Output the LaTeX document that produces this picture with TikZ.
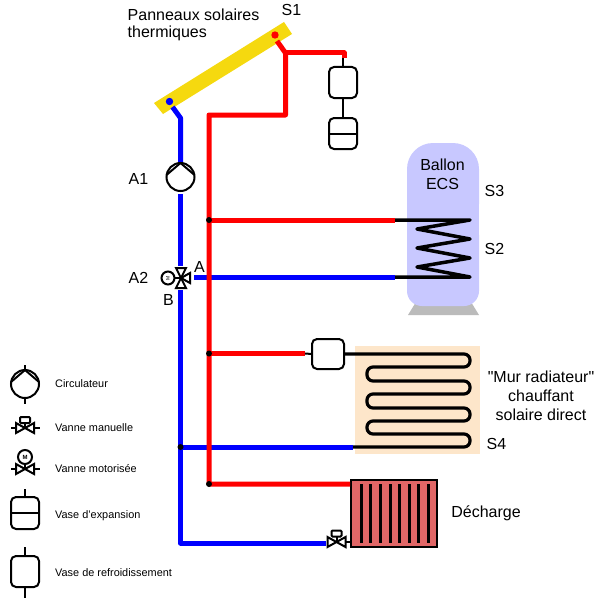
\documentclass[tikz,border=0pt]{standalone}
\usepackage{fontspec}
\setmainfont{Liberation Sans}
\newfontfamily\plainf{Liberation Sans}
\definecolor{panelc}{HTML}{F5D90F}
\definecolor{tankc}{HTML}{C8C8FF}
\definecolor{basec}{HTML}{BBBBBB}
\definecolor{wallc}{HTML}{FDE6CA}
\definecolor{radc}{HTML}{E06666}
\tikzset{
  hot/.style={draw=red,line width=5pt,line join=round},
  cold/.style={draw=blue,line width=5pt,line join=round},
  blk/.style={draw=black,line width=2pt},
  coil/.style={draw=black,line width=3.5pt,line join=round},
  vase/.style={draw=black,line width=2pt,rounded corners=5pt,minimum width=28pt,inner sep=0pt,outer sep=0pt},
  lbl/.style={inner sep=0pt,font=\fontsize{16}{18}\selectfont},
  leg/.style={inner sep=0pt,anchor=west,font=\fontsize{10.9}{12}\selectfont},
  junction/.style={circle,fill=black,inner sep=0pt,minimum size=6pt},
  pumpc/.style={circle,draw=black,line width=2pt,minimum size=28pt,inner sep=0pt,outer sep=0pt},
  pumps/.pic={
    \draw[blk] (0,-14) -- (-14,-2) (0,-14) -- (14,-2);
  },
  valves/.pic={
    \draw[blk,line join=miter] (-9,-5) -- (9,5) -- (9,-5) -- (-9,5) -- cycle;
  },
  tvalve/.pic={
    \draw[blk,line join=miter] (-5,-10) -- (5,-10) -- (-5,10) -- (5,10) -- cycle;
    \draw[blk,line join=miter] (0,0) -- (9,-5) -- (9,5) -- cycle;
  },
}
\begin{document}
\begin{tikzpicture}[x=1pt,y=-1pt]
\useasboundingbox (0,0) rectangle (601,610);
% panel
\fill[panelc] (154,103) -- (284,22) -- (292,34) -- (163,114) -- cycle;
% tank
\fill[basec] (416,302) -- (471,302) -- (479,315) -- (408,315) -- cycle;
\fill[tankc,rounded corners=26pt] (407,230) -- (407,143) -- (479,143) -- (479,230) -- cycle;
\fill[tankc,rounded corners=15pt] (407,220) -- (407,306) -- (479,306) -- (479,220) -- cycle;
\fill[tankc] (407,180) rectangle (479,280);
% wall
\fill[wallc] (355,346) rectangle (480,454);
% radiator
\node[draw=black,line width=2pt,fill=radc,minimum width=86.5pt,minimum height=67pt,inner sep=0pt,outer sep=0pt] (rad) at (394.2,513.5) {};
\foreach \x in {361,370,380,390,399,409,418,428}
  \draw[draw=black,line width=3pt] (\x,484) -- (\x,543);

% coordinates
\coordinate (sensorH) at (275,35);
\coordinate (sensorC) at (169.5,101.5);
\coordinate (hA) at (277,41);
\coordinate (hB) at (285.5,53);
\coordinate (hC) at (285.5,115);
\coordinate (hD) at (209,115);
\coordinate (hE) at (209,484);
\coordinate (hF) at (350,484);
\coordinate (hG) at (344,53);
\coordinate (hH) at (344,58);
\coordinate (j1) at (209,220);
\coordinate (j2) at (209,353.5);
\coordinate (coilH) at (395,220);
\coordinate (coilC) at (395,277);
\coordinate (cA) at (172.5,107);
\coordinate (cB) at (180.5,118);
\coordinate (cC) at (180.5,162);
\coordinate (cD) at (180.5,194);
\coordinate (cE) at (180.5,266);
\coordinate (cF) at (180.5,290);
\coordinate (cG) at (180.5,543);
\coordinate (cH) at (326,543);
\coordinate (cI) at (194,277);
\coordinate (j3) at (180.5,447);
\coordinate (cJ) at (353,447);

% vessels
\node[vase,minimum height=31pt] (v1) at (343,82.5) {};
\node[vase,minimum height=31pt] (v2) at (343,133.5) {};
\draw[blk] (v2.west) -- (v2.east);
\draw[blk] (343,58) -- (v1.north);
\draw[blk] (v1.south) -- (v2.north);
\node[vase,minimum width=32pt,minimum height=30pt] (v3) at (328,354) {};

% pipes
\draw[cold] (cH) -- (cG) -- (cF);
\draw[cold] (cE) -- (cD);
\draw[cold] (cC) -- (cB) -- (cA);
\draw[cold] (cI) -- (coilC);
\draw[cold] (j3) -- (cJ);
\draw[hot] (hA) -- (hB) -- (hC) -- (hD) -- (hE) -- (hF);
\draw[hot] (hB) -- (hG) -- (hH);
\draw[hot] (j1) -- (coilH);
\draw[hot] (j2) -- (305,353.5);
\draw[blk] (305,353.5) -- (v3.west);
\fill[red] (sensorH) circle (3.7pt);
\fill[blue] (sensorC) circle (3.7pt);

% junctions
\node[junction] (n1) at (j1) {};
\node[junction] (n2) at (j2) {};
\node[junction] (n3) at (hE) {};
\node[junction] (n4) at (j3) {};

% coil
\draw[coil] (coilH) -- (470,220) -- (417,229) -- (470,239) -- (417,248) -- (470,258) -- (417,267) -- (470,277) -- (coilC);

% serpentine
\draw[black,line width=3.2pt,rounded corners=6pt]
 (v3.east) -- (470,354) -- (470,367) -- (367,367) -- (367,381) -- (470,381) -- (470,394) -- (367,394) -- (367,408) -- (470,408) -- (470,421) -- (367,421) -- (367,434) -- (470,434) -- (470,447) -- (cJ);

% pump A1
\node[pumpc] (A1) at (180.5,177) {};
\pic at (180.5,177) {pumps};
% valve A2
\pic at (181,278) {tvalve};
\node[circle,draw=black,line width=2pt,minimum size=13pt,inner sep=0pt,outer sep=0pt] (m2) at (168,278) {\rotatebox{90}{\fontsize{5}{5}\selectfont M}};
\draw[blk] (m2.east) -- (181,278);
% bottom valve
\pic at (336.5,542) {valves};
\node[draw=black,line width=2pt,minimum width=10pt,minimum height=6pt,inner sep=0pt,outer sep=0pt,rounded corners=1pt] (hv) at (336.5,533.5) {};
\draw[blk] (hv.south) -- (336.5,542);
\draw[blk] (345.5,542) -- (rad.west |- 0,542);

% labels
\node[lbl,anchor=west] (t1) at (127.5,15) {Panneaux solaires};
\node[lbl,anchor=west] (t2) at (127.5,33) {thermiques};
\node[lbl] (s1) at (291.5,9.5) {S1};
\node[lbl] (a1) at (138.5,179) {A1};
\node[lbl] (a2) at (138.5,277.5) {A2};
\node[lbl] (la) at (199.5,267) {A};
\node[lbl] (lb) at (168.5,300) {B};
\node[lbl] (b1) at (442.5,165) {Ballon};
\node[lbl] (b2) at (442.5,184) {ECS};
\node[lbl] (s3) at (494.5,190.5) {S3};
\node[lbl] (s2) at (494.5,248.5) {S2};
\node[lbl] (s4) at (496.5,443.5) {S4};
\node[lbl] (m1) at (541,377) {\plainf "Mur radiateur"};
\node[lbl] (m2t) at (541,396) {chauffant};
\node[lbl] (m3) at (541,415) {solaire direct};
\node[lbl] (d) at (486,513) {Décharge};

% legend
\node[pumpc] (lp) at (25,384) {};
\pic at (25,384) {pumps};
\draw[blk] (25,365) -- (25,370) (lp.south) -- (25,404);
\pic at (25,428) {valves};
\draw[blk] (11,428) -- (16,428) (34,428) -- (40,428);
\node[draw=black,line width=2pt,minimum width=10pt,minimum height=6pt,inner sep=0pt,outer sep=0pt,rounded corners=1pt] (lh) at (25,420) {};
\draw[blk] (lh.south) -- (25,428);
\pic at (25,469) {valves};
\draw[blk] (11,469) -- (16,469) (34,469) -- (40,469);
\node[circle,draw=black,line width=2pt,minimum size=14pt,inner sep=0pt,outer sep=0pt,font=\fontsize{6}{6}\selectfont\bfseries] (lm) at (25,457) {M};
\draw[blk] (lm.south) -- (25,469);
\node[vase,minimum height=32pt] (lv1) at (25,513) {};
\draw[blk] (lv1.west) -- (lv1.east);
\draw[blk] (25,489) -- (lv1.north);
\node[vase,minimum height=31pt] (lv2) at (25,571.5) {};
\draw[blk] (25,547) -- (lv2.north) (lv2.south) -- (25,598);
\node[leg] (l1) at (55,384) {Circulateur};
\node[leg] (l2) at (55,428) {Vanne manuelle};
\node[leg] (l3) at (55,469) {Vanne motorisée};
\node[leg] (l4) at (55,515.5) {Vase d'expansion};
\node[leg] (l5) at (55,573) {Vase de refroidissement};
\end{tikzpicture}
\end{document}
